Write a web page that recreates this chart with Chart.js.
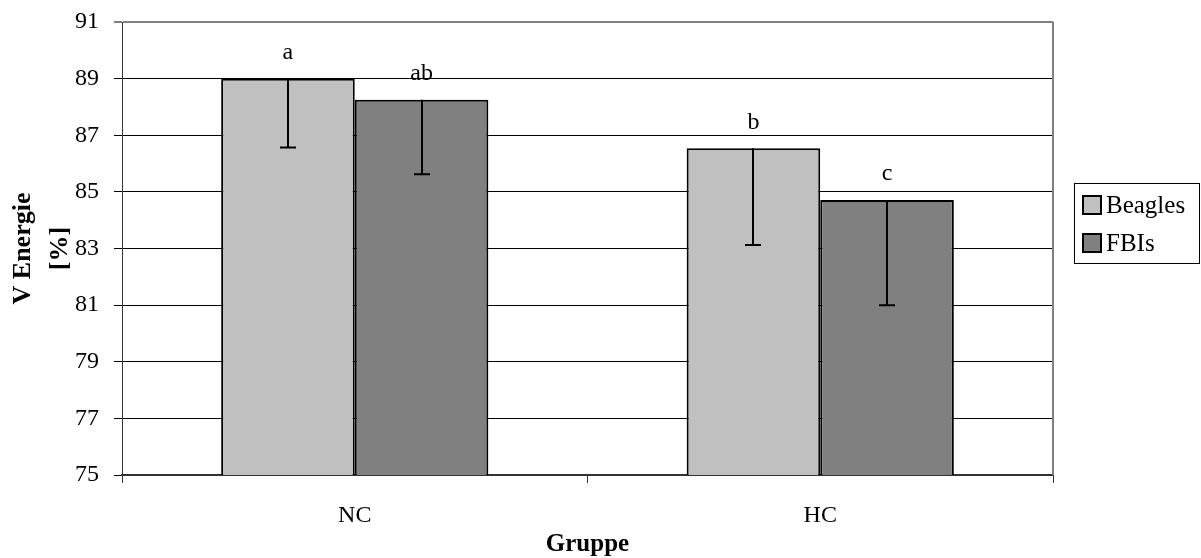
<!DOCTYPE html>
<html>
<head>
<meta charset="utf-8">
<script src="https://cdn.jsdelivr.net/npm/chart.js@4"></script>
<style>
  body { margin: 0; background: #fff; }
  #wrap { width: 1201px; height: 558px; }
</style>
</head>
<body>
<div id="wrap"><canvas id="chart" width="1201" height="558"></canvas></div>
<script>
// Groups and mean values per breed
const groups = ['NC', 'HC'];
const beagles = [89.0, 86.54];
const fbis = [88.25, 84.71];
// Standard deviations (drawn downwards only)
const beaglesSd = [2.43, 3.42];
const fbisSd = [2.63, 3.71];
// Significance letters above the bars
const beaglesSig = ['a', 'b'];
const fbisSig = ['ab', 'c'];

const serif = "'Liberation Serif', 'Times New Roman', serif";

// Lower error bars with a cap at the bottom
const errorBars = {
  id: 'errorBars',
  afterDatasetsDraw(chart) {
    const ctx = chart.ctx;
    const y = chart.scales.y;
    ctx.save();
    ctx.strokeStyle = '#000';
    ctx.lineWidth = 2;
    chart.data.datasets.forEach((ds, i) => {
      const meta = chart.getDatasetMeta(i);
      meta.data.forEach((bar, j) => {
        const low = y.getPixelForValue(ds.data[j] - ds.sd[j]);
        const x = Math.round(bar.x);
        ctx.beginPath();
        ctx.moveTo(x, bar.y);
        ctx.lineTo(x, low);
        ctx.moveTo(x - 8, low);
        ctx.lineTo(x + 8, low);
        ctx.stroke();
      });
    });
    ctx.restore();
  }
};

// Letters over each bar
const sigLabels = {
  id: 'sigLabels',
  afterDatasetsDraw(chart) {
    const ctx = chart.ctx;
    ctx.save();
    ctx.fillStyle = '#000';
    ctx.font = '24px ' + serif;
    ctx.textAlign = 'center';
    ctx.textBaseline = 'middle';
    chart.data.datasets.forEach((ds, i) => {
      chart.getDatasetMeta(i).data.forEach((bar, j) => {
        ctx.fillText(ds.sig[j], bar.x, bar.y - 26);
      });
    });
    ctx.restore();
  }
};

// Grey frame on the right side and a boxed legend
const frameAndLegend = {
  id: 'frameAndLegend',
  afterDraw(chart) {
    const ctx = chart.ctx;
    const a = chart.chartArea;
    ctx.save();
    ctx.strokeStyle = '#808080';
    ctx.lineWidth = 2;
    ctx.beginPath();
    ctx.moveTo(a.right, a.top);
    ctx.lineTo(a.right, a.bottom);
    ctx.stroke();

    // legend box
    ctx.strokeStyle = '#000';
    ctx.lineWidth = 1;
    ctx.strokeRect(1074.5, 183.5, 125, 80);
    ctx.font = '25px ' + serif;
    ctx.textBaseline = 'middle';
    ctx.textAlign = 'left';
    chart.data.datasets.forEach((ds, i) => {
      const cy = 205 + i * 38;
      ctx.fillStyle = ds.backgroundColor;
      ctx.fillRect(1083, cy - 9, 18, 18);
      ctx.lineWidth = 2;
      ctx.strokeStyle = '#000';
      ctx.strokeRect(1083, cy - 9, 18, 18);
      ctx.fillStyle = '#000';
      ctx.fillText(ds.label, 1106, cy + 1);
    });
    ctx.restore();
  }
};

new Chart(document.getElementById('chart'), {
  type: 'bar',
  data: {
    labels: groups,
    datasets: [
      { label: 'Beagles', data: beagles, sd: beaglesSd, sig: beaglesSig,
        backgroundColor: '#C0C0C0', borderColor: '#000', borderWidth: 2 },
      { label: 'FBIs', data: fbis, sd: fbisSd, sig: fbisSig,
        backgroundColor: '#808080', borderColor: '#000', borderWidth: 2 }
    ]
  },
  options: {
    responsive: false,
    animation: false,
    layout: { padding: { top: 22, right: 148, bottom: 0, left: 0 } },
    datasets: { bar: { categoryPercentage: 0.574, barPercentage: 1 } },
    plugins: { legend: { display: false }, tooltip: { enabled: false } },
    scales: {
      x: {
        grid: { drawOnChartArea: false, drawTicks: true, tickLength: 8, color: '#333', offset: true },
        border: { color: '#333', width: 2 },
        ticks: { color: '#000', font: { family: serif, size: 24 }, padding: 18 },
        title: { display: true, text: 'Gruppe', color: '#000',
          font: { family: serif, size: 25, weight: 'bold', lineHeight: 1.2 },
          padding: { top: 0, bottom: -2 } },
        afterFit(scale) {
          scale.height = 83;
          scale.paddingLeft = 0;
          scale.paddingRight = 0;
        }
      },
      y: {
        min: 75, max: 91,
        ticks: { stepSize: 2, color: '#000', font: { family: serif, size: 24 }, padding: 15 },
        grid: {
          tickLength: 8,
          color: (c) => c.tick && c.tick.value === 91 ? '#808080' : '#000',
          lineWidth: (c) => c.tick && c.tick.value === 91 ? 2 : 1
        },
        border: { color: '#333', width: 1 },
        title: { display: true, text: ['V Energie', '[%]'], color: '#000',
          font: { family: serif, size: 26, weight: 'bold', lineHeight: '37px' },
          padding: { top: 5, bottom: 0 } },
        afterFit(scale) {
          scale.width = 122;
          // label overhang is covered by the layout padding
          scale.paddingTop = 0;
          scale.paddingBottom = 0;
        }
      }
    }
  },
  plugins: [errorBars, sigLabels, frameAndLegend]
});
</script>
</body>
</html>
